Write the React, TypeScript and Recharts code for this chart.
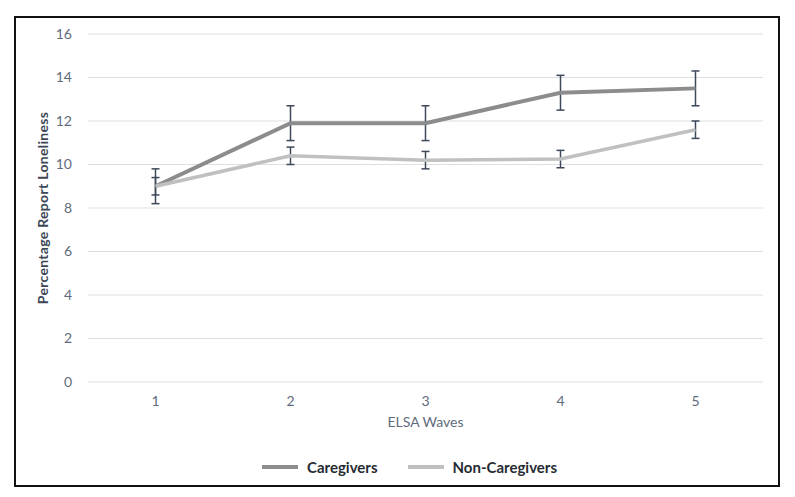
import React from 'react';
import { LineChart, Line, XAxis, YAxis, CartesianGrid, ErrorBar, Legend } from 'recharts';

const waves = [1, 2, 3, 4, 5];
const caregivers = [9.0, 11.9, 11.9, 13.3, 13.5];
const caregiversErr = [0.8, 0.8, 0.8, 0.8, 0.8];
const nonCaregivers = [9.0, 10.4, 10.2, 10.25, 11.6];
const nonCaregiversErr = [0.4, 0.4, 0.4, 0.4, 0.4];
const yTicks = [0, 2, 4, 6, 8, 10, 12, 14, 16];
const boundaryTicks = [0.5, 1.5, 2.5, 3.5, 4.5, 5.5];

const data = waves.map((w, i) => ({
  wave: w,
  caregivers: caregivers[i],
  caregiversErr: caregiversErr[i],
  nonCaregivers: nonCaregivers[i],
  nonCaregiversErr: nonCaregiversErr[i],
}));

const FONT = "Lato, 'Open Sans', sans-serif";
const CARE = '#8c8c8c';
const NON = '#c0c0c0';
const ERR = '#3d4858';

const legendItems = [
  { label: 'Caregivers', color: CARE },
  { label: 'Non-Caregivers', color: NON },
];

const renderLegend = () => (
  <div style={{ display: 'flex', alignItems: 'center', fontFamily: FONT }}>
    {legendItems.map((it, i) => (
      <div key={it.label} style={{ display: 'flex', alignItems: 'center', marginRight: i === 0 ? 30 : 0 }}>
        <div style={{ width: 36, height: 4, background: it.color, marginRight: 9 }} />
        <span style={{ fontSize: 15, fontWeight: 'bold', color: '#262b33' }}>{it.label}</span>
      </div>
    ))}
  </div>
);

export default function App() {
  return (
    <div style={{ position: 'absolute', left: 0, top: 0, width: 795, height: 497, background: '#fff' }}>
      <div
        style={{
          position: 'absolute',
          left: 14,
          top: 16,
          width: 766,
          height: 471,
          border: '2px solid #111',
          boxSizing: 'border-box',
        }}
      />
      <div style={{ position: 'absolute', left: 0, top: 0 }}>
        <LineChart width={795} height={497} data={data} margin={{ top: 34, right: 32, bottom: 60, left: 0 }}>
          <CartesianGrid vertical={false} stroke="#dcdfe4" strokeWidth={1.2} />
          <XAxis
            xAxisId="bounds"
            dataKey="wave"
            type="number"
            domain={[0.5, 5.5]}
            ticks={boundaryTicks}
            tick={false}
            height={0}
            stroke="#d5d8dd"
            tickSize={5}
            axisLine={{ stroke: '#d5d8dd', strokeWidth: 1.2 }}
            tickLine={{ stroke: '#d5d8dd' }}
          />
          <XAxis
            xAxisId="labels"
            dataKey="wave"
            type="number"
            domain={[0.5, 5.5]}
            ticks={waves}
            height={55}
            axisLine={false}
            tickLine={false}
            tickSize={0}
            tickMargin={14}
            tick={{ fill: '#5f6b7d', fontSize: 14, fontFamily: FONT }}
            label={{ value: 'ELSA Waves', position: 'center', dy: 13, fill: '#5f6b7d', fontSize: 14, fontFamily: FONT }}
          />
          <YAxis
            domain={[0, 16]}
            ticks={yTicks}
            width={88}
            axisLine={false}
            tickLine={false}
            tickMargin={10}
            tick={{ fill: '#5f6b7d', fontSize: 14, fontFamily: FONT }}
            label={{
              value: 'Percentage Report Loneliness',
              angle: -90,
              position: 'center',
              dx: -1,
              fill: '#3b4656',
              fontSize: 14,
              fontWeight: 'bold',
              fontFamily: FONT,
              letterSpacing: 0.3,
            }}
          />
          <Legend
            layout="horizontal"
            verticalAlign="middle"
            align="center"
            content={renderLegend}
            wrapperStyle={{ position: 'absolute', top: 458, left: 262, width: 'auto' }}
          />
          <Line
            xAxisId="labels"
            type="linear"
            dataKey="caregivers"
            name="Caregivers"
            stroke={CARE}
            strokeWidth={4}
            dot={false}
            activeDot={false}
            isAnimationActive={false}
          >
            <ErrorBar dataKey="caregiversErr" direction="y" width={4} stroke={ERR} strokeWidth={1.5} isAnimationActive={false} />
          </Line>
          <Line
            xAxisId="labels"
            type="linear"
            dataKey="nonCaregivers"
            name="Non-Caregivers"
            stroke={NON}
            strokeWidth={3.5}
            dot={false}
            activeDot={false}
            isAnimationActive={false}
          >
            <ErrorBar dataKey="nonCaregiversErr" direction="y" width={4} stroke={ERR} strokeWidth={1.5} isAnimationActive={false} />
          </Line>
        </LineChart>
      </div>
    </div>
  );
}
